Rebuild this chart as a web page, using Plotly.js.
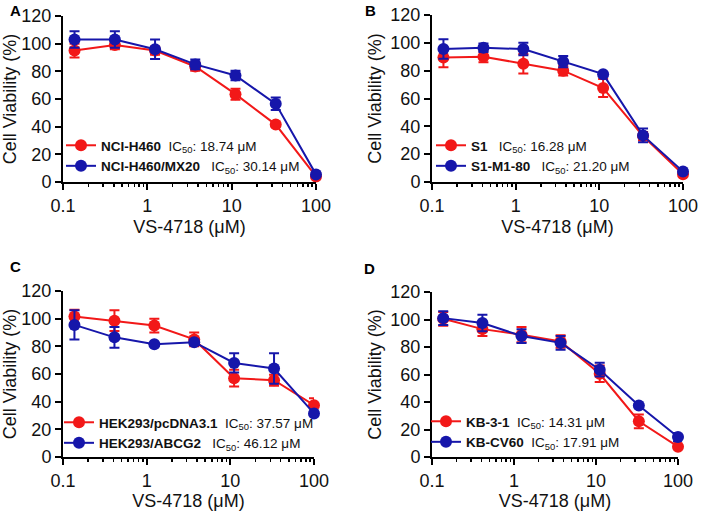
<!DOCTYPE html>
<html>
<head>
<meta charset="utf-8">
<script src="https://cdn.plot.ly/plotly-3.0.1.min.js"></script>
<style>html,body{margin:0;padding:0;background:#fff;}#chart{width:701px;height:511px;}</style>
</head>
<body>
<div id="chart"></div>
<script>
// Doses (µM), 3-fold dilution
const doses = [0.137, 0.412, 1.235, 3.7, 11.1, 33.3, 100];

// Panel A
const aRedName = "NCI-H460", aRedIC = "18.74";
const aRed = [95, 99, 95, 83.5, 63.5, 41.5, 4];
const aRedErr = [5, 3, 3, 3, 4, 1.5, 1];
const aBlueName = "NCI-H460/MX20", aBlueIC = "30.14";
const aBlue = [103, 103, 96, 85, 77, 56.5, 5.5];
const aBlueErr = [6, 6, 7, 3.5, 3.5, 4.5, 1];

// Panel B
const bRedName = "S1", bRedIC = "16.28";
const bRed = [89.5, 90, 85, 80, 67.5, 33, 5.5];
const bRedErr = [7, 4, 7, 3.5, 6.5, 3, 1];
const bBlueName = "S1-M1-80", bBlueIC = "21.20";
const bBlue = [95.5, 96.5, 95.5, 86.5, 77.5, 33.5, 7.5];
const bBlueErr = [7, 3, 4.5, 4, 1, 5, 1];

// Panel C
const cRedName = "HEK293/pcDNA3.1", cRedIC = "37.57";
const cRed = [101.5, 98.5, 95, 85, 57, 55.5, 37.5];
const cRedErr = [5, 7.5, 5, 5, 6, 4, 5];
const cBlueName = "HEK293/ABCG2", cBlueIC = "46.12";
const cBlue = [95.5, 86.5, 81.5, 83, 68, 64, 31.5];
const cBlueErr = [10.5, 7.5, 1, 2, 7, 11, 1];

// Panel D
const dRedName = "KB-3-1", dRedIC = "14.31";
const dRed = [100.5, 93, 89, 84, 60.5, 26, 7.5];
const dRedErr = [5, 5, 5.5, 4.5, 6, 5, 1];
const dBlueName = "KB-CV60", dBlueIC = "17.91";
const dBlue = [101, 97.5, 88, 83, 63.5, 37.5, 14.5];
const dBlueErr = [5, 6, 5, 5, 5, 1, 3];

const panelLetters = ["A", "B", "C", "D"];
const xTitle = "VS-4718 (μM)";
const yTitle = "Cell Viability (%)";

const RED = "#F21818", BLUE = "#1616AA";
const FONT = "Liberation Sans, Arial, sans-serif";

function lbl(name, ic, pad) {
  return "<b>" + name + "</b>" + "\u00A0".repeat(pad) + "IC<sub>50</sub>: " + ic + " μM";
}

function tr(y, err, color, name, xa, ya, leg) {
  return {
    x: doses, y: y, type: "scatter", mode: "lines+markers",
    xaxis: xa, yaxis: ya, legend: leg, name: name,
    line: {color: color, width: 2},
    marker: {color: color, size: 12, symbol: "circle"},
    error_y: {type: "data", array: err, visible: true, color: color, thickness: 2, width: 5},
    cliponaxis: false
  };
}

const data = [
  tr(aRed, aRedErr, RED, lbl(aRedName, aRedIC, 2), "x", "y", "legend"),
  tr(aBlue, aBlueErr, BLUE, lbl(aBlueName, aBlueIC, 3), "x", "y", "legend"),
  tr(bRed, bRedErr, RED, lbl(bRedName, bRedIC, 3), "x2", "y2", "legend2"),
  tr(bBlue, bBlueErr, BLUE, lbl(bBlueName, bBlueIC, 3), "x2", "y2", "legend2"),
  tr(cRed, cRedErr, RED, lbl(cRedName, cRedIC, 2), "x3", "y3", "legend3"),
  tr(cBlue, cBlueErr, BLUE, lbl(cBlueName, cBlueIC, 3), "x3", "y3", "legend3"),
  tr(dRed, dRedErr, RED, lbl(dRedName, dRedIC, 2), "x4", "y4", "legend4"),
  tr(dBlue, dBlueErr, BLUE, lbl(dBlueName, dBlueIC, 2), "x4", "y4", "legend4")
];

const W = 701, H = 511;
function dx(a, b) { return [a / W, b / W]; }
function dy(top, bot) { return [1 - bot / H, 1 - top / H]; }

function xax(dom, anchor) {
  return {
    type: "log", range: [-1, 2], domain: dom, anchor: anchor,
    showline: true, linecolor: "#000", linewidth: 2, mirror: false,
    showgrid: false, zeroline: false,
    ticks: "outside", ticklen: 6, tickwidth: 2, tickcolor: "#000",
    tickvals: [0.1, 1, 10, 100], ticktext: ["0.1", "1", "10", "100"],
    minor: {ticks: "outside", ticklen: 3, tickwidth: 1.5, tickcolor: "#000", dtick: "D1", showgrid: false},
    tickfont: {family: FONT, size: 18, color: "#111"},
    title: {text: xTitle, font: {family: FONT, size: 18, color: "#111"}, standoff: 6},
    fixedrange: true
  };
}
function yax(dom, anchor) {
  return {
    range: [0, 120], domain: dom, anchor: anchor,
    showline: true, linecolor: "#000", linewidth: 2,
    showgrid: false, zeroline: false,
    ticks: "outside", ticklen: 6, tickwidth: 2, tickcolor: "#000",
    tickvals: [0, 20, 40, 60, 80, 100, 120],
    tickfont: {family: FONT, size: 18, color: "#111"},
    title: {text: yTitle, font: {family: FONT, size: 18, color: "#111"}, standoff: 4},
    fixedrange: true
  };
}

function leg(x, y) {
  return {
    x: x, y: y, xanchor: "left", yanchor: "top", xref: "paper", yref: "paper",
    bgcolor: "rgba(0,0,0,0)", font: {family: FONT, size: 13.5, color: "#111"},
    tracegroupgap: 0, itemwidth: 30, itemclick: false
  };
}

const xA = dx(63, 316), xB = dx(432, 683), xC = dx(63, 314), xD = dx(432, 678);
const yA = dy(16, 182), yB = dy(15, 182), yC = dy(291, 457), yD = dy(292, 457);

const layout = {
  width: W, height: H,
  margin: {l: 0, r: 0, t: 0, b: 0},
  paper_bgcolor: "#fff", plot_bgcolor: "#fff",
  showlegend: true,
  xaxis: xax(xA, "y"), yaxis: yax(yA, "x"),
  xaxis2: xax(xB, "y2"), yaxis2: yax(yB, "x2"),
  xaxis3: xax(xC, "y3"), yaxis3: yax(yC, "x3"),
  xaxis4: xax(xD, "y4"), yaxis4: yax(yD, "x4"),
  legend: leg(61 / W, 1 - 130 / H),
  legend2: leg(431 / W, 1 - 130 / H),
  legend3: leg(59 / W, 1 - 407 / H),
  legend4: leg(426 / W, 1 - 406 / H),
  annotations: [
    {text: "<b>" + panelLetters[0] + "</b>", x: 8 / W, y: 1 - 10 / H},
    {text: "<b>" + panelLetters[1] + "</b>", x: 363 / W, y: 1 - 10 / H},
    {text: "<b>" + panelLetters[2] + "</b>", x: 8 / W, y: 1 - 266 / H},
    {text: "<b>" + panelLetters[3] + "</b>", x: 362 / W, y: 1 - 268 / H}
  ].map(a => Object.assign(a, {xref: "paper", yref: "paper", xanchor: "left", yanchor: "middle", showarrow: false, font: {family: FONT, size: 15, color: "#000"}}))
};

Plotly.newPlot("chart", data, layout, {displayModeBar: false, staticPlot: true});
</script>
</body>
</html>
